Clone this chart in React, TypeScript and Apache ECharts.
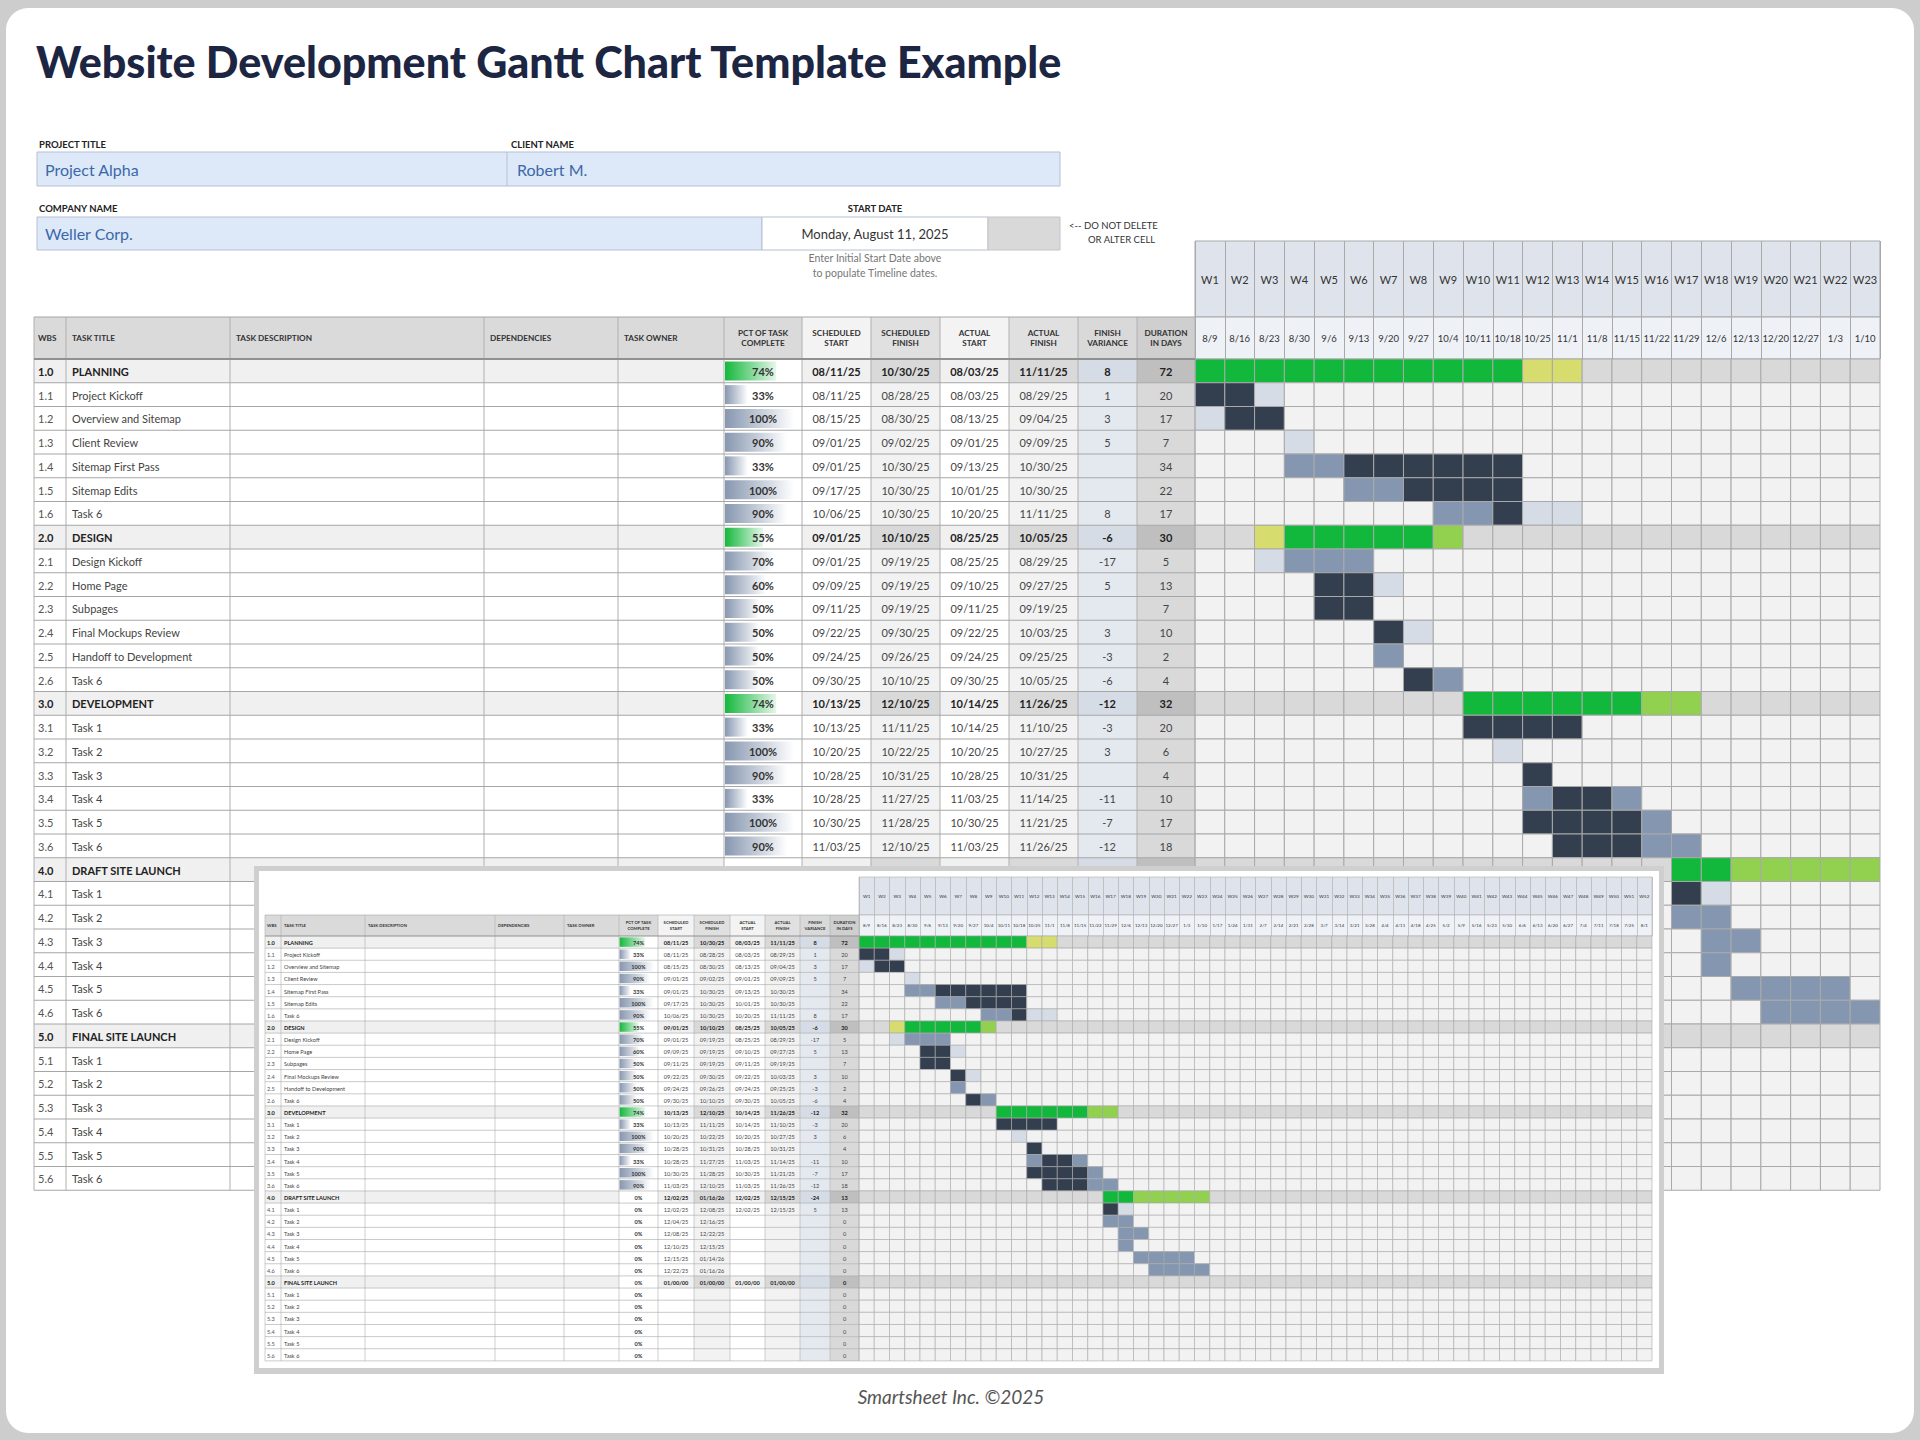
import React, { useEffect, useRef } from "react";
import * as echarts from "echarts";

// ---------------- DATA ----------------
const WEEK_LABELS = ["W1","W2","W3","W4","W5","W6","W7","W8","W9","W10","W11","W12","W13","W14","W15","W16","W17","W18","W19","W20","W21","W22","W23","W24","W25","W26","W27","W28","W29","W30","W31","W32","W33","W34","W35","W36","W37","W38","W39","W40","W41","W42","W43","W44","W45","W46","W47","W48","W49","W50","W51","W52"];
const WEEK_DATES = ["8/9","8/16","8/23","8/30","9/6","9/13","9/20","9/27","10/4","10/11","10/18","10/25","11/1","11/8","11/15","11/22","11/29","12/6","12/13","12/20","12/27","1/3","1/10","1/17","1/24","1/31","2/7","2/14","2/21","2/28","3/7","3/14","3/21","3/28","4/4","4/11","4/18","4/25","5/2","5/9","5/16","5/23","5/30","6/6","6/13","6/20","6/27","7/4","7/11","7/18","7/25","8/1"];

const WBS = ["1.0","1.1","1.2","1.3","1.4","1.5","1.6","2.0","2.1","2.2","2.3","2.4","2.5","2.6","3.0","3.1","3.2","3.3","3.4","3.5","3.6","4.0","4.1","4.2","4.3","4.4","4.5","4.6","5.0","5.1","5.2","5.3","5.4","5.5","5.6"];
const TASK_TITLES = ["PLANNING","Project Kickoff","Overview and Sitemap","Client Review","Sitemap First Pass","Sitemap Edits","Task 6","DESIGN","Design Kickoff","Home Page","Subpages","Final Mockups Review","Handoff to Development","Task 6","DEVELOPMENT","Task 1","Task 2","Task 3","Task 4","Task 5","Task 6","DRAFT SITE LAUNCH","Task 1","Task 2","Task 3","Task 4","Task 5","Task 6","FINAL SITE LAUNCH","Task 1","Task 2","Task 3","Task 4","Task 5","Task 6"];
const PCT_COMPLETE = [74,33,100,90,33,100,90,55,70,60,50,50,50,50,74,33,100,90,33,100,90,0,0,0,0,0,0,0,0,0,0,0,0,0,0];
const SCHED_START = ["08/11/25","08/11/25","08/15/25","09/01/25","09/01/25","09/17/25","10/06/25","09/01/25","09/01/25","09/09/25","09/11/25","09/22/25","09/24/25","09/30/25","10/13/25","10/13/25","10/20/25","10/28/25","10/28/25","10/30/25","11/03/25","12/02/25","12/02/25","12/04/25","12/08/25","12/10/25","12/15/25","12/22/25","01/00/00","","","","","",""];
const SCHED_FINISH = ["10/30/25","08/28/25","08/30/25","09/02/25","10/30/25","10/30/25","10/30/25","10/10/25","09/19/25","09/19/25","09/19/25","09/30/25","09/26/25","10/10/25","12/10/25","11/11/25","10/22/25","10/31/25","11/27/25","11/28/25","12/10/25","01/16/26","12/08/25","12/16/25","12/22/25","12/15/25","01/14/26","01/16/26","01/00/00","","","","","",""];
const ACTUAL_START = ["08/03/25","08/03/25","08/13/25","09/01/25","09/13/25","10/01/25","10/20/25","08/25/25","08/25/25","09/10/25","09/11/25","09/22/25","09/24/25","09/30/25","10/14/25","10/14/25","10/20/25","10/28/25","11/03/25","10/30/25","11/03/25","12/02/25","12/02/25","","","","","","01/00/00","","","","","",""];
const ACTUAL_FINISH = ["11/11/25","08/29/25","09/04/25","09/09/25","10/30/25","10/30/25","11/11/25","10/05/25","08/29/25","09/27/25","09/19/25","10/03/25","09/25/25","10/05/25","11/26/25","11/10/25","10/27/25","10/31/25","11/14/25","11/21/25","11/26/25","12/15/25","12/15/25","","","","","","01/00/00","","","","","",""];
const FINISH_VARIANCE = ["8","1","3","5","","","8","-6","-17","5","","3","-3","-6","-12","-3","3","","-11","-7","-12","-24","5","","","","","","","","","","","",""];
const DURATION_DAYS = [72,20,17,7,34,22,17,30,5,13,7,10,2,4,32,20,6,4,10,17,18,13,13,0,0,0,0,0,0,0,0,0,0,0,0];

// [wbs, first week, last week, kind]  D=dark, M=medium, L=light, G=green, Y=yellow, LG=light green
const GANTT_BARS: [string, number, number, string][] = [
  ["1.0",1,11,"G"],["1.0",12,13,"Y"],
  ["1.1",1,2,"D"],["1.1",3,3,"L"],
  ["1.2",1,1,"L"],["1.2",2,3,"D"],
  ["1.3",4,4,"L"],
  ["1.4",4,5,"M"],["1.4",6,11,"D"],
  ["1.5",6,7,"M"],["1.5",8,11,"D"],
  ["1.6",9,10,"M"],["1.6",11,11,"D"],["1.6",12,13,"L"],
  ["2.0",3,3,"Y"],["2.0",4,8,"G"],["2.0",9,9,"LG"],
  ["2.1",3,3,"L"],["2.1",4,6,"M"],
  ["2.2",5,6,"D"],["2.2",7,7,"L"],
  ["2.3",5,6,"D"],
  ["2.4",7,7,"D"],["2.4",8,8,"L"],
  ["2.5",7,7,"M"],
  ["2.6",8,8,"D"],["2.6",9,9,"M"],
  ["3.0",10,15,"G"],["3.0",16,17,"LG"],
  ["3.1",10,13,"D"],
  ["3.2",11,11,"L"],
  ["3.3",12,12,"D"],
  ["3.4",12,12,"M"],["3.4",13,14,"D"],["3.4",15,15,"M"],
  ["3.5",12,15,"D"],["3.5",16,16,"M"],
  ["3.6",13,15,"D"],["3.6",16,17,"M"],
  ["4.0",17,18,"G"],["4.0",19,23,"LG"],
  ["4.1",17,17,"D"],["4.1",18,18,"L"],
  ["4.2",17,18,"M"],
  ["4.3",18,19,"M"],
  ["4.4",18,18,"M"],
  ["4.5",19,22,"M"],
  ["4.6",20,23,"M"],
];

const HEADERS = ["WBS","TASK TITLE","TASK DESCRIPTION","DEPENDENCIES","TASK OWNER","PCT OF TASK\nCOMPLETE","SCHEDULED\nSTART","SCHEDULED\nFINISH","ACTUAL\nSTART","ACTUAL\nFINISH","FINISH\nVARIANCE","DURATION\nIN DAYS"];

// ---------------- STYLE ----------------
const FONT = "Lato, 'Noto Sans', sans-serif";
const KIND_COLORS: Record<string, string> = {
  T: "#f2f2f2", S: "#d9d9d9", D: "#333f4f", M: "#8597b0", L: "#d6dce5", G: "#12b83b", Y: "#d6dd6e", LG: "#92d050",
};
const HEAD_BG = ["#dadada","#dadada","#dadada","#dadada","#dadada","#dadada","#f3f3f3","#e0e0e0","#f3f3f3","#e0e0e0","#d9d9d9","#cfcfcf"];
const TASK_BG = ["#ffffff","#ffffff","#ffffff","#ffffff","#ffffff","#ffffff","#ffffff","#f2f2f2","#ffffff","#f2f2f2","#e4e9f0","#d9d9d9"];
const SUM_BG = ["#f0f0f0","#f0f0f0","#f0f0f0","#f0f0f0","#f0f0f0","#ffffff","#f0f0f0","#d9d9d9","#f0f0f0","#d9d9d9","#d6dce5","#bfbfbf"];

const isSummary = (i: number) => WBS[i].endsWith(".0");

type Geo = { cols: number[]; headTop: number; rowTop: number; rowH: number; fs: number; hfs: number; lh: number; pad: number; titlePad: number; line: number; z: number; hideFromRow: number; hideFromCol: number };
const MAIN: Geo = { cols: [34,66,230,484,618,724,802,871,940,1009,1078,1137,1195], headTop: 317, rowTop: 359, rowH: 23.75, fs: 11, hfs: 8.2, lh: 10.5, pad: 4, titlePad: 6, line: 1, z: 1, hideFromRow: 22, hideFromCol: 2 };
const MINI: Geo = { cols: [265,281,365,495,564,619,658,694,730,765,800,830,859], headTop: 915, rowTop: 936, rowH: 12.14, fs: 5.6, hfs: 4.2, lh: 5.4, pad: 2, titlePad: 3, line: 0.6, z: 11, hideFromRow: 999, hideFromCol: 99 };

const rect = (x: number, y: number, w: number, h: number, fill: string, z: number, extra: any = {}) => ({
  type: "rect", z, silent: true, shape: { x, y, width: w, height: h, ...(extra.r ? { r: extra.r } : {}) },
  style: { fill, stroke: extra.stroke || null, lineWidth: extra.lineWidth || 0 },
});
const line = (x1: number, y1: number, x2: number, y2: number, stroke: string, w: number, z: number) => ({
  type: "line", z, silent: true, shape: { x1, y1, x2, y2 }, style: { stroke, lineWidth: w },
});
const text = (x: number, y: number, t: string, font: string, fill: string, align: string, z: number, lh?: number) => ({
  type: "text", z, silent: true,
  style: { x, y, text: t, font, fill, textAlign: align, align, textVerticalAlign: "middle", verticalAlign: "middle", ...(lh ? { lineHeight: lh } : {}) },
});

function tableEls(g: Geo) {
  const els: any[] = [];
  const c = g.cols;
  const z = g.z;
  const N = WBS.length;
  const headH = g.rowTop - g.headTop;
  for (let k = 0; k < 12; k++) {
    els.push(rect(c[k], g.headTop, c[k + 1] - c[k], headH, HEAD_BG[k], z));
    const left = k < 5;
    const x = left ? c[k] + (k === 0 ? g.pad : g.titlePad) : (c[k] + c[k + 1]) / 2;
    els.push(text(x, g.headTop + headH / 2, HEADERS[k], `bold ${g.hfs}px ${FONT}`, "#333333", left ? "left" : "center", z + 3, g.lh));
  }
  for (let r = 0; r < N; r++) {
    const y = g.rowTop + r * g.rowH;
    const s = isSummary(r);
    const bg = s ? SUM_BG : TASK_BG;
    const hidden = r >= g.hideFromRow;
    for (let k = 0; k < 12; k++) {
      if (hidden && k >= g.hideFromCol + 1) continue;
      els.push(rect(c[k], y, c[k + 1] - c[k], g.rowH, bg[k], z));
    }
    const cy = y + g.rowH / 2 + 0.5;
    const f = `${s ? "bold " : ""}${g.fs}px ${FONT}`;
    const col = s ? "#222222" : "#444444";
    els.push(text(c[0] + g.pad, cy, WBS[r], f, s ? "#222222" : "#555555", "left", z + 3));
    els.push(text(c[1] + g.titlePad, cy, TASK_TITLES[r], f, col, "left", z + 3));
    if (hidden) continue; // covered by the inset picture
    els.push(text((c[5] + c[6]) / 2, cy, `${PCT_COMPLETE[r]}%`, `bold ${g.fs}px ${FONT}`, "#333333", "center", z + 3));
    const vals = [SCHED_START[r], SCHED_FINISH[r], ACTUAL_START[r], ACTUAL_FINISH[r], FINISH_VARIANCE[r], String(DURATION_DAYS[r])];
    vals.forEach((v, j) => {
      if (v) els.push(text((c[6 + j] + c[7 + j]) / 2, cy, v, f, col, "center", z + 3));
    });
  }
  const bottom = g.rowTop + N * g.rowH;
  for (let k = 0; k <= 12; k++) els.push(line(c[k], g.headTop, c[k], bottom, "#b0b0b0", g.line, z + 2));
  els.push(line(c[0], g.headTop, c[12], g.headTop, "#a6a6a6", g.line, z + 2));
  for (let r = 1; r <= N; r++) {
    const y = g.rowTop + r * g.rowH;
    els.push(line(c[0], y, c[12], y, "#a6a6a6", g.line, z + 2));
  }
  els.push(line(c[0], g.rowTop, c[12], g.rowTop, "#909090", g.line * 2, z + 2));
  return els;
}

function ganttData(nWeeks: number) {
  const out: any[] = [];
  for (let r = 0; r < WBS.length; r++) {
    for (let w = 0; w < nWeeks; w++) {
      let kind = isSummary(r) ? "S" : "T";
      for (const [row, a, b, k] of GANTT_BARS) if (row === WBS[r] && w + 1 >= a && w + 1 <= b) kind = k;
      out.push({ value: [w, r], itemStyle: { color: KIND_COLORS[kind] } });
    }
  }
  return out;
}

const cellRenderer = (strokeW: number) => (params: any, api: any) => {
  const c = api.coord([api.value(0), api.value(1)]);
  const s = api.size([1, 1]);
  return {
    type: "rect",
    shape: { x: c[0] - s[0] / 2, y: c[1] - s[1] / 2, width: s[0], height: s[1] },
    style: { fill: api.visual("color"), stroke: "#a9a9a9", lineWidth: strokeW },
  };
};

function pctBars() {
  return PCT_COMPLETE.map((v, i) => ({
    value: v,
    itemStyle: {
      color: new echarts.graphic.LinearGradient(0, 0, 1, 0, isSummary(i)
        ? [{ offset: 0, color: "#14b83c" }, { offset: 1, color: "#e6f6ea" }]
        : [{ offset: 0, color: "#8797b0" }, { offset: 1, color: "#ffffff" }]),
    },
  }));
}

function buildOption() {
  const N = WBS.length;
  const MAIN_W = 23;
  const gantt = { left: 1195, top: 359, width: 685, height: N * MAIN.rowH };
  const mini = { left: 859, top: 936, width: 793, height: N * MINI.rowH };

  const graphics: any[] = [];
  // page frame
  graphics.push(rect(0, 0, 1920, 1440, "#cdcdcd", 0));
  graphics.push(rect(6, 8, 1908, 1425, "#ffffff", 0, { r: 22 }));
  // title
  graphics.push(text(36, 61, "Website Development Gantt Chart Template Example", `900 43px ${FONT}`, "#1c2541", "left", 1));
  // fields
  graphics.push(text(39, 144, "PROJECT TITLE", `bold 9.5px ${FONT}`, "#222222", "left", 1));
  graphics.push(text(511, 144, "CLIENT NAME", `bold 9.5px ${FONT}`, "#222222", "left", 1));
  graphics.push(rect(37, 152, 1023, 34, "#dde8f8", 1, { stroke: "#b6c1d0", lineWidth: 1 }));
  graphics.push(line(507, 152, 507, 186, "#b6c1d0", 1, 2));
  graphics.push(text(45, 169.5, "Project Alpha", `16px ${FONT}`, "#3b69a8", "left", 2));
  graphics.push(text(517, 169.5, "Robert M.", `16px ${FONT}`, "#3b69a8", "left", 2));
  graphics.push(text(39, 208, "COMPANY NAME", `bold 9.5px ${FONT}`, "#222222", "left", 1));
  graphics.push(text(875, 208, "START DATE", `bold 9.5px ${FONT}`, "#222222", "center", 1));
  graphics.push(rect(37, 217, 725, 33, "#dde8f8", 1, { stroke: "#b6c1d0", lineWidth: 1 }));
  graphics.push(rect(762, 217, 226, 33, "#ffffff", 1, { stroke: "#b6c1d0", lineWidth: 1 }));
  graphics.push(rect(988, 217, 72, 33, "#d9d9d9", 1, { stroke: "#c4c4c4", lineWidth: 1 }));
  graphics.push(text(45, 233.5, "Weller Corp.", `16px ${FONT}`, "#3b69a8", "left", 2));
  graphics.push(text(875, 233.5, "Monday, August 11, 2025", `13px ${FONT}`, "#333333", "center", 2));
  graphics.push(text(1069, 225, "<-- DO NOT DELETE", `9.5px ${FONT}`, "#333333", "left", 2));
  graphics.push(text(1088, 239, "OR ALTER CELL", `9.5px ${FONT}`, "#333333", "left", 2));
  graphics.push(text(875, 258, "Enter Initial Start Date above", `10.5px ${FONT}`, "#777777", "center", 2));
  graphics.push(text(875, 273, "to populate Timeline dates.", `10.5px ${FONT}`, "#777777", "center", 2));

  // main gantt header
  graphics.push(rect(gantt.left, 241, gantt.width, 76, "#dfe4ec", 1, { stroke: "#a9a9a9", lineWidth: 1 }));
  graphics.push(rect(gantt.left, 317, gantt.width, 42, "#eef1f6", 1, { stroke: "#a9a9a9", lineWidth: 1 }));
  // main table
  graphics.push(...tableEls(MAIN));

  // inset frame
  graphics.push(rect(254, 866, 1410, 508, "#cfcfcf", 10));
  graphics.push(rect(259, 871, 1400, 497, "#ffffff", 10));
  graphics.push(rect(mini.left, 877, mini.width, 38, "#dfe4ec", 11, { stroke: "#b0b0b0", lineWidth: 0.6 }));
  graphics.push(rect(mini.left, 915, mini.width, 21, "#eef1f6", 11, { stroke: "#b0b0b0", lineWidth: 0.6 }));
  graphics.push(...tableEls(MINI));

  // footer
  graphics.push(text(951, 1396, "Smartsheet Inc. ©2025", `italic 19px ${FONT}`, "#555555", "center", 1));

  const catX = (gridIndex: number, data: string[], z: number, tickLen: number, margin: number, fs: number, showTick: boolean) => ({
    type: "category", gridIndex, data, position: "top", offset: 0, z,
    axisLine: { show: false },
    axisTick: { show: showTick, length: tickLen, interval: 0, lineStyle: { color: "#a9a9a9", width: fs > 8 ? 1 : 0.6 } },
    axisLabel: { interval: 0, margin, verticalAlign: "middle", fontFamily: FONT, fontSize: fs, color: "#333333" },
    splitLine: { show: false },
  });
  const rowsY = (gridIndex: number) => ({ type: "category", gridIndex, data: WBS, inverse: true, show: false });

  return {
    animation: false,
    graphic: { elements: graphics },
    grid: [
      { ...gantt, outerBoundsMode: "none" },
      { ...mini, outerBoundsMode: "none" },
      { left: MAIN.cols[5] + 1, width: MAIN.cols[6] - MAIN.cols[5] - 2, top: MAIN.rowTop, height: N * MAIN.rowH, outerBoundsMode: "none" },
      { left: MINI.cols[5] + 0.5, width: MINI.cols[6] - MINI.cols[5] - 1, top: MINI.rowTop, height: N * MINI.rowH, outerBoundsMode: "none" },
    ],
    xAxis: [
      catX(0, WEEK_LABELS.slice(0, MAIN_W), 6, 118, 80, 11, true),
      catX(0, WEEK_DATES.slice(0, MAIN_W), 6, 0, 21, 9.5, false),
      catX(1, WEEK_LABELS, 15, 59, 40, 4.6, true),
      catX(1, WEEK_DATES, 15, 0, 10.5, 4.4, false),
      { type: "value", gridIndex: 2, min: 0, max: 110, show: false },
      { type: "value", gridIndex: 3, min: 0, max: 110, show: false },
    ],
    yAxis: [rowsY(0), rowsY(1), rowsY(2), rowsY(3)],
    series: [
      { type: "custom", name: "timeline", xAxisIndex: 0, yAxisIndex: 0, z: 2, silent: true, encode: { x: 0, y: 1 }, renderItem: cellRenderer(1), data: ganttData(MAIN_W) },
      { type: "bar", name: "pct", xAxisIndex: 4, yAxisIndex: 2, z: 2, silent: true, barWidth: 19, data: pctBars() },
      { type: "custom", name: "miniTimeline", xAxisIndex: 2, yAxisIndex: 1, z: 12, silent: true, encode: { x: 0, y: 1 }, renderItem: cellRenderer(0.6), data: ganttData(WEEK_LABELS.length) },
      { type: "bar", name: "miniPct", xAxisIndex: 5, yAxisIndex: 3, z: 12, silent: true, barWidth: 9.5, data: pctBars() },
    ],
  };
}

export default function App() {
  const ref = useRef<HTMLDivElement>(null);
  useEffect(() => {
    const chart = echarts.init(ref.current as HTMLDivElement, null, { renderer: "svg" });
    chart.setOption(buildOption() as any);
    return () => chart.dispose();
  }, []);
  return <div ref={ref} style={{ position: "absolute", left: 0, top: 0, width: 1920, height: 1440 }} />;
}
